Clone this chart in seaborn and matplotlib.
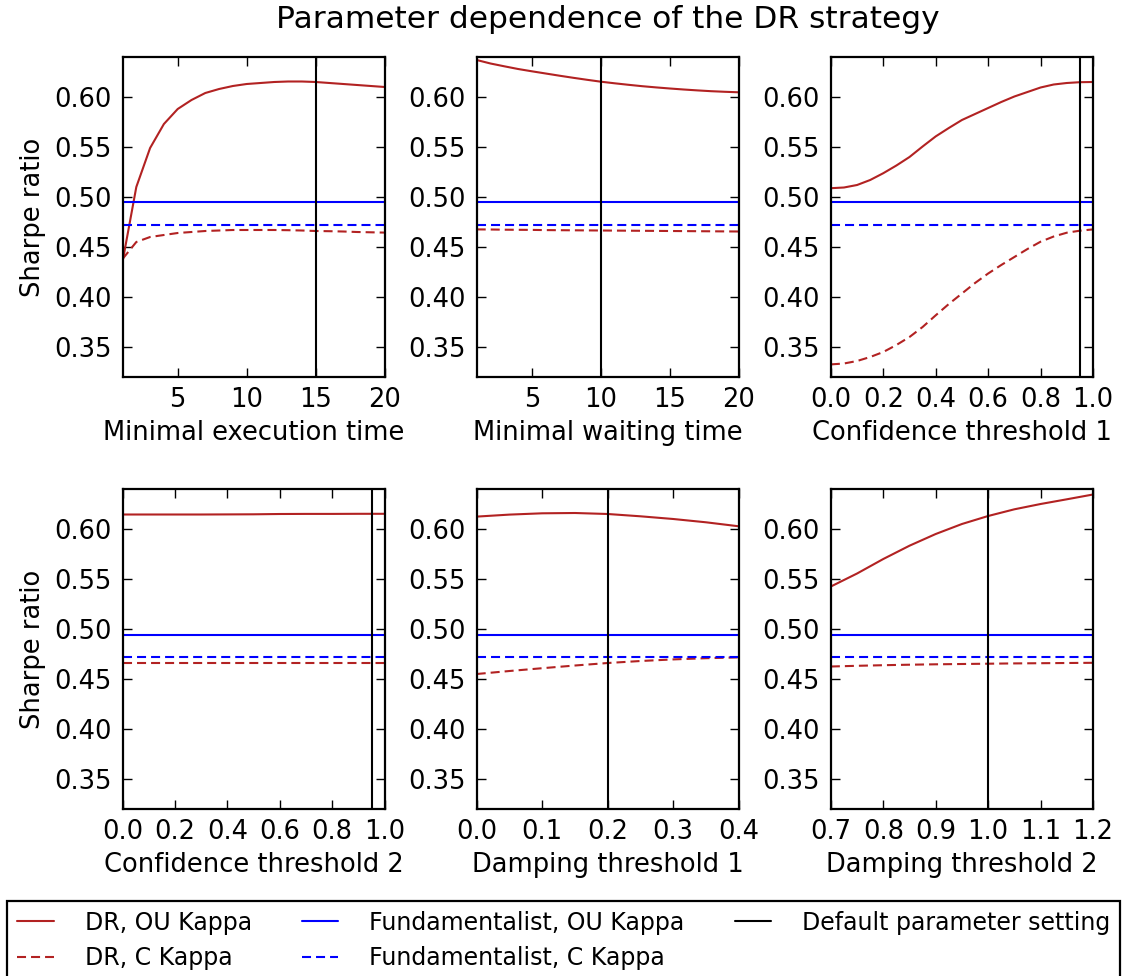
import numpy as np
import pandas as pd
import matplotlib
matplotlib.use("Agg")
import matplotlib.pyplot as plt
from matplotlib.lines import Line2D
import seaborn as sns

# ---- data -------------------------------------------------------------
exec_x = list(range(1, 21))
exec_ou = [0.435, 0.510, 0.549, 0.573, 0.588, 0.597, 0.604, 0.608, 0.611, 0.613,
           0.614, 0.615, 0.6155, 0.6155, 0.615, 0.614, 0.613, 0.612, 0.611, 0.610]
exec_c = [0.438, 0.455, 0.460, 0.462, 0.464, 0.465, 0.466, 0.4665, 0.467, 0.467,
          0.467, 0.467, 0.4668, 0.4665, 0.466, 0.4658, 0.4655, 0.465, 0.4647, 0.4644]

wait_x = list(range(1, 21))
wait_ou = [0.637, 0.6335, 0.6307, 0.628, 0.6257, 0.6235, 0.6213, 0.6192, 0.6172, 0.6153,
           0.6137, 0.6122, 0.6108, 0.6096, 0.6085, 0.6075, 0.6066, 0.6058, 0.6052, 0.6047]
wait_c = [0.4676, 0.4675, 0.4673, 0.4672, 0.4671, 0.4669, 0.4668, 0.4667, 0.4666, 0.4665,
          0.4664, 0.4663, 0.4662, 0.4661, 0.4660, 0.4659, 0.4658, 0.4657, 0.4656, 0.4655]

conf1_x = [0.0, 0.05, 0.1, 0.15, 0.2, 0.25, 0.3, 0.35, 0.4, 0.45, 0.5,
           0.55, 0.6, 0.65, 0.7, 0.75, 0.8, 0.85, 0.9, 0.95, 1.0]
conf1_ou = [0.5088, 0.5095, 0.512, 0.517, 0.5238, 0.5315, 0.540, 0.5505, 0.5606, 0.569, 0.577,
            0.583, 0.589, 0.595, 0.6005, 0.605, 0.6095, 0.6125, 0.614, 0.6148, 0.615]
conf1_c = [0.3326, 0.3335, 0.336, 0.340, 0.345, 0.352, 0.360, 0.370, 0.3817, 0.393, 0.4035,
           0.414, 0.4235, 0.432, 0.440, 0.448, 0.4553, 0.4605, 0.4643, 0.4663, 0.4676]

conf2_x = [0.0, 0.1, 0.2, 0.3, 0.4, 0.5, 0.6, 0.7, 0.8, 0.9, 1.0]
conf2_ou = [0.6145, 0.6145, 0.6145, 0.6145, 0.6146, 0.6147, 0.6150, 0.6151, 0.6151, 0.6152, 0.6152]
conf2_c = [0.4663, 0.4663, 0.4663, 0.4663, 0.4663, 0.4663, 0.4663, 0.4663, 0.4663, 0.4663, 0.4663]

damp1_x = [0.0, 0.05, 0.1, 0.15, 0.2, 0.25, 0.3, 0.35, 0.4]
damp1_ou = [0.6124, 0.6144, 0.6157, 0.616, 0.615, 0.6127, 0.610, 0.6067, 0.6027]
damp1_c = [0.455, 0.458, 0.4608, 0.4635, 0.466, 0.468, 0.4696, 0.4708, 0.4716]

damp2_x = [0.7, 0.75, 0.8, 0.85, 0.9, 0.95, 1.0, 1.05, 1.1, 1.15, 1.2]
damp2_ou = [0.5425, 0.5555, 0.570, 0.5833, 0.595, 0.605, 0.613, 0.6197, 0.625, 0.6297, 0.6345]
damp2_c = [0.4625, 0.4632, 0.4638, 0.4643, 0.4647, 0.465, 0.4653, 0.4656, 0.4658, 0.466, 0.4662]

fund_ou = 0.4945
fund_c = 0.472

defaults = [15, 10, 0.95, 0.95, 0.2, 1.0]
xlabels = ["Minimal execution time", "Minimal waiting time", "Confidence threshold 1",
           "Confidence threshold 2", "Damping threshold 1", "Damping threshold 2"]
xlims = [(1, 20), (1, 20), (0.0, 1.0), (0.0, 1.0), (0.0, 0.4), (0.7, 1.2)]
xticks = [[5, 10, 15, 20], [5, 10, 15, 20],
          [0.0, 0.2, 0.4, 0.6, 0.8, 1.0], [0.0, 0.2, 0.4, 0.6, 0.8, 1.0],
          [0.0, 0.1, 0.2, 0.3, 0.4], [0.7, 0.8, 0.9, 1.0, 1.1, 1.2]]
yticks = [0.35, 0.40, 0.45, 0.50, 0.55, 0.60]

panels = [(exec_x, exec_ou, exec_c), (wait_x, wait_ou, wait_c),
          (conf1_x, conf1_ou, conf1_c), (conf2_x, conf2_ou, conf2_c),
          (damp1_x, damp1_ou, damp1_c), (damp2_x, damp2_ou, damp2_c)]

# ---- style ------------------------------------------------------------
sns.set_style("ticks")
plt.rcParams["font.family"] = ["DejaVu Sans"]
plt.rcParams.update({
    "font.size": 18.5,
    "text.color": "black",
    "axes.labelcolor": "black",
    "axes.linewidth": 1.6,
    "axes.edgecolor": "black",
    "xtick.direction": "in",
    "ytick.direction": "in",
    "xtick.top": True,
    "ytick.right": True,
    "xtick.major.size": 6.5,
    "ytick.major.size": 6.5,
    "xtick.major.width": 1.0,
    "ytick.major.width": 1.0,
    "xtick.major.pad": 7.5,
    "ytick.major.pad": 8,
    "xtick.color": "black",
    "ytick.color": "black",
    "lines.scale_dashes": False,
})

RED = "#b22222"
BLUE = "#0000ff"
LW = 1.5
DASH = (6.5, 3.6)
FS = 18.5

fig = plt.figure(figsize=(11.26, 9.76), dpi=100)
gs = fig.add_gridspec(2, 3, left=0.1088, right=0.9707, top=0.9416, bottom=0.1711,
                      wspace=0.351, hspace=0.35)

for i, (x, ou, c) in enumerate(panels):
    ax = fig.add_subplot(gs[i // 3, i % 3])
    sns.lineplot(x=x, y=ou, ax=ax, color=RED, linewidth=LW)
    sns.lineplot(x=x, y=c, ax=ax, color=RED, linewidth=LW, dashes=False)
    ax.lines[-1].set_dashes(DASH)
    ax.axhline(fund_ou, color=BLUE, linewidth=LW)
    ax.axhline(fund_c, color=BLUE, linewidth=LW, dashes=DASH)
    ax.axvline(defaults[i], color="black", linewidth=LW)
    ax.set_xlim(*xlims[i])
    ax.set_ylim(0.32, 0.64)
    ax.set_xticks(xticks[i])
    ax.set_yticks(yticks)
    ax.set_yticklabels([f"{v:.2f}" for v in yticks])
    if i in (2, 3, 4, 5):
        ax.set_xticklabels([f"{v:.1f}" for v in xticks[i]])
    ax.tick_params(labelsize=FS, colors="black")
    ax.set_xlabel(xlabels[i], fontsize=FS, labelpad=5, color="black")
    if i % 3 == 0:
        ax.set_ylabel("Sharpe ratio", fontsize=FS, labelpad=6, color="black")
    for s in ax.spines.values():
        s.set_visible(True)

fig.suptitle("Parameter dependence of the DR strategy", x=0.54, y=0.995,
             fontsize=22.5, va="top", color="black")

handles = [
    Line2D([], [], color=RED, linewidth=LW),
    Line2D([], [], color=RED, linewidth=LW, dashes=DASH),
    Line2D([], [], color=BLUE, linewidth=LW),
    Line2D([], [], color=BLUE, linewidth=LW, dashes=DASH),
    Line2D([], [], color="black", linewidth=LW),
]
labels = ["DR, OU Kappa", "DR, C Kappa", "Fundamentalist, OU Kappa",
          "Fundamentalist, C Kappa", "Default parameter setting"]
leg = fig.legend(handles, labels, ncol=3, loc="upper left", mode="expand",
                 bbox_to_anchor=(7.3 / 1126, 0, 1112.7 / 1126, 1 - 900.7 / 976),
                 bbox_transform=fig.transFigure, borderaxespad=0,
                 fontsize=17, frameon=True, fancybox=False, edgecolor="black",
                 framealpha=1, handlelength=1.55, handletextpad=1.3,
                 columnspacing=2.3, borderpad=0.42, labelspacing=0.48)
leg.get_frame().set_linewidth(1.6)
for t in leg.get_texts():
    t.set_color("black")

fig.savefig("out.png", dpi=100)
